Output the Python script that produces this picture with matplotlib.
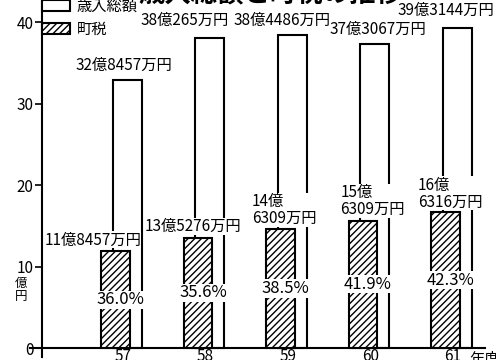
import numpy as np
import matplotlib
matplotlib.use('Agg')
import matplotlib.pyplot as plt

plt.rcParams['font.family'] = ['Noto Sans CJK JP', 'DejaVu Sans']
plt.rcParams['hatch.linewidth'] = 1.0

# data (億円)
years = ['57', '58', '59', '60', '61']
total = [32.8457, 38.0265, 38.4486, 37.3067, 39.3144]
tax = [11.8457, 13.5276, 14.6309, 15.6309, 16.6316]
total_labels = ['32億8457万円', '38億265万円', '38億4486万円', '37億3067万円', '39億3144万円']
tax_labels = ['11億8457万円', '13億5276万円', '14億\n6309万円', '15億\n6309万円', '16億\n6316万円']
pct_labels = ['36.0%', '35.6%', '38.5%', '41.9%', '42.3%']

# label placement (pixels)
total_dx = [1, -21, -6, 7, -7]
total_dy = [6, 9, 6, 6, 9]
tax_dx = [-30, -13, -36, -30, -35]
tax_dy = [3, 3, 2, 3, 2]
tax_ha = ['center', 'center', 'left', 'left', 'left']

fig = plt.figure(figsize=(4.96, 3.6), dpi=100)
ax = fig.add_axes([30 / 496, 3 / 360, 455 / 496, 357 / 360])

x = np.arange(len(years))
ax.bar(x + 0.05, total, width=0.35, color='white', edgecolor='black', lw=1.5, zorder=2,
       label='歳入総額')
ax.bar(x - 0.09, tax, width=0.35, color='white', edgecolor='black', lw=1.5, hatch='/////',
       zorder=3, label='町税')

for i in range(len(years)):
    ax.annotate(total_labels[i], (x[i], total[i]), xytext=(total_dx[i], total_dy[i]),
                textcoords='offset pixels', ha='center', va='bottom', fontsize=11)
    ax.annotate(tax_labels[i], (x[i], tax[i]), xytext=(tax_dx[i], tax_dy[i]),
                textcoords='offset pixels', ha=tax_ha[i], va='bottom', fontsize=11,
                linespacing=1.0, zorder=5,
                bbox=dict(facecolor='white', edgecolor='none', pad=0))
    ax.text(x[i] - 0.03, tax[i] * 0.5, pct_labels[i], ha='center', va='center', fontsize=12,
            zorder=6, bbox=dict(facecolor='white', edgecolor='none', pad=0.5))

ax.set_xlim(-1.127, 4.388)
ax.set_ylim(-1.1, 42.7)
ax.spines['top'].set_visible(False)
ax.spines['right'].set_visible(False)
ax.spines['left'].set_position(('data', -0.98))
ax.spines['bottom'].set_position(('data', 0))
ax.spines['left'].set_bounds(-1.1, 42.7)
for s in ['left', 'bottom']:
    ax.spines[s].set_linewidth(1.5)

ax.set_xticks(x)
ax.set_xticklabels(years, fontsize=11)
ax.tick_params(axis='x', length=0, pad=0)
ax.set_yticks([0, 10, 20, 30, 40])
ax.tick_params(axis='y', length=5, width=1.2, pad=1, labelsize=11)

ax.annotate('年度', (4.2, 0), xytext=(0, -3), textcoords='offset pixels',
            ha='left', va='top', fontsize=11)
fig.text(21 / 496, 1 - 290 / 360, '億\n円', ha='center', va='center', fontsize=9, linespacing=0.95)

fig.legend(loc='upper left', bbox_to_anchor=(42 / 496, 1.007), frameon=False, fontsize=11,
           borderpad=0, borderaxespad=0, handlelength=1.83, handleheight=0.75,
           labelspacing=0.4, handletextpad=0.45)

fig.text(0.545, 1 + 5 / 360, '歳入総額と町税の推移', ha='center', va='center', fontsize=19,
         fontweight='bold')

fig.savefig('out.png', dpi=100)
